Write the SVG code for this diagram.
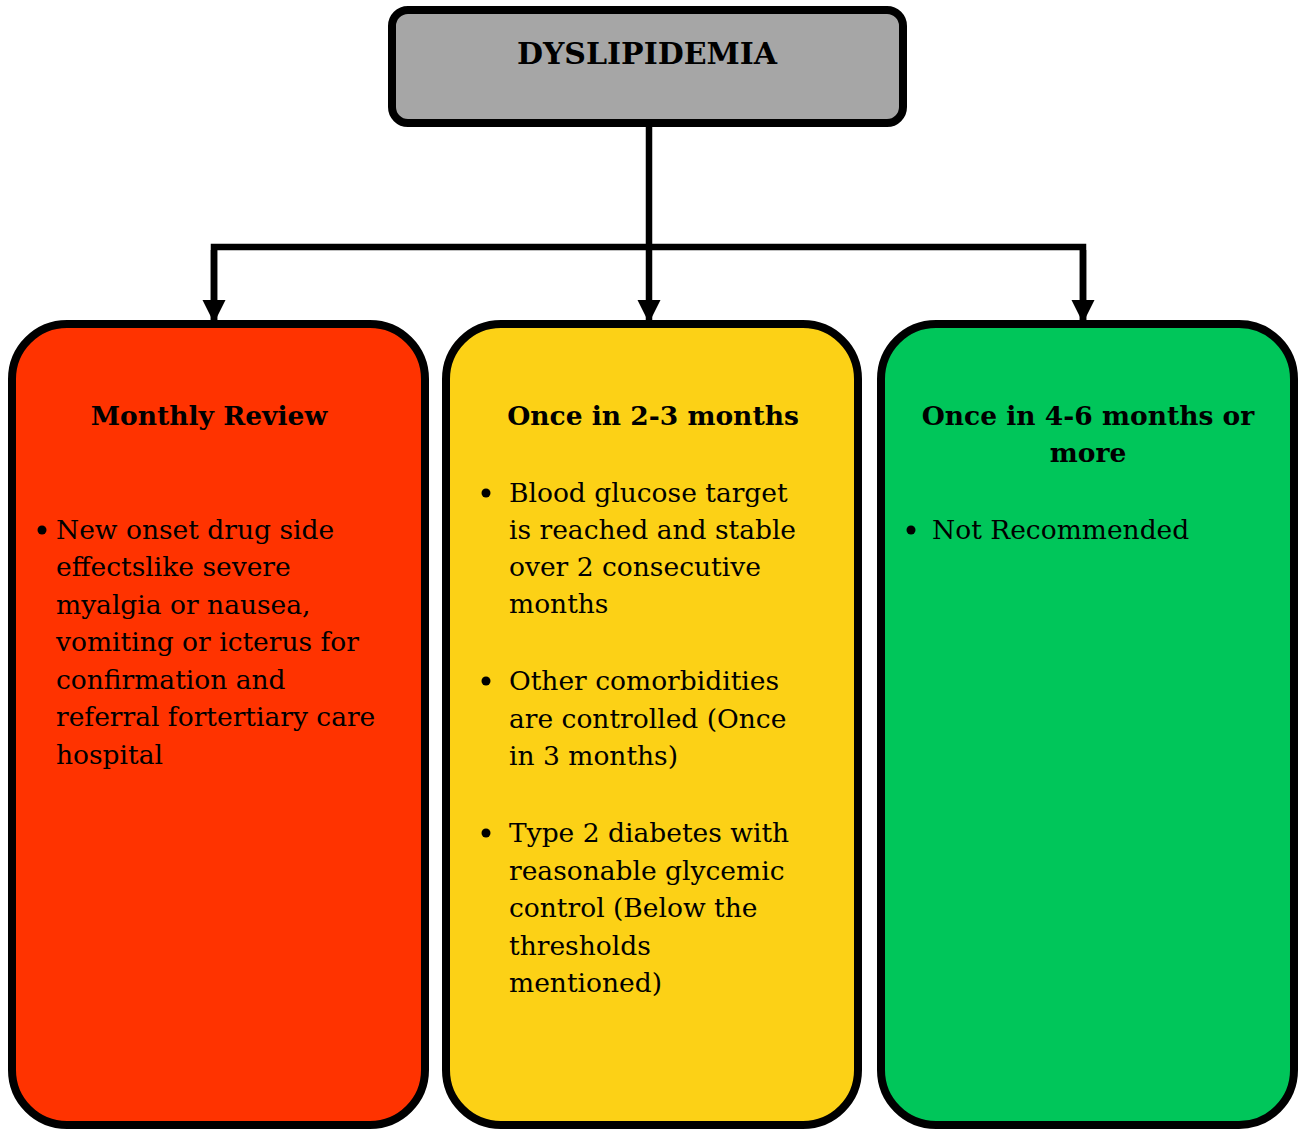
<svg xmlns="http://www.w3.org/2000/svg" width="1302" height="1129" viewBox="0 0 1302 1129">
<style>
.box{stroke:#000;stroke-width:8}
.t{font-family:"DejaVu Serif","Liberation Serif",serif;font-size:26.5px;fill:#000}
.b{font-weight:bold;text-anchor:middle}
.conn{fill:none;stroke:#000;stroke-width:6.5}
</style>
<defs>
<marker id="ah" viewBox="0 0 10 10" refX="10" refY="5" markerWidth="3.6" markerHeight="3.6" orient="auto" markerUnits="strokeWidth">
<path d="M0,0 L10,5 L0,10 Z" fill="#000"/>
</marker>
</defs>
<rect width="1302" height="1129" fill="#fff"/>
<g id="connectors">
<path class="conn" d="M649,124 V323" marker-end="url(#ah)"/>
<path class="conn" d="M214,320 V247 H1083 V320"/>
<path class="conn" d="M214,250 V323" marker-end="url(#ah)"/>
<path class="conn" d="M1083,250 V323" marker-end="url(#ah)"/>
</g>
<g id="dyslipidemia">
<rect class="box" x="392" y="10" width="511" height="113" rx="16" fill="#A6A6A6"/>
<text class="t b" x="647" y="64" style="font-size:30px">DYSLIPIDEMIA</text>
</g>
<g id="monthly">
<rect class="box" x="12" y="324" width="413" height="801" rx="55" fill="#FF3300"/>
<text class="t b" x="209" y="425">Monthly Review</text>
<circle cx="42" cy="530" r="4.5"/>
<text class="t" x="56" y="539">New onset drug side</text>
<text class="t" x="56" y="576">effectslike severe</text>
<text class="t" x="56" y="614">myalgia or nausea,</text>
<text class="t" x="56" y="651">vomiting or icterus for</text>
<text class="t" x="56" y="689">confirmation and</text>
<text class="t" x="56" y="726">referral fortertiary care</text>
<text class="t" x="56" y="764">hospital</text>
</g>
<g id="twothree">
<rect class="box" x="446" y="324" width="412" height="801" rx="55" fill="#FCD116"/>
<text class="t b" x="653" y="425">Once in 2-3 months</text>
<circle cx="486" cy="493" r="4.5"/>
<text class="t" x="509" y="502">Blood glucose target</text>
<text class="t" x="509" y="539">is reached and stable</text>
<text class="t" x="509" y="576">over 2 consecutive</text>
<text class="t" x="509" y="613">months</text>
<circle cx="486" cy="681" r="4.5"/>
<text class="t" x="509" y="690">Other comorbidities</text>
<text class="t" x="509" y="728">are controlled (Once</text>
<text class="t" x="509" y="765">in 3 months)</text>
<circle cx="486" cy="833" r="4.5"/>
<text class="t" x="509" y="842">Type 2 diabetes with</text>
<text class="t" x="509" y="880">reasonable glycemic</text>
<text class="t" x="509" y="917">control (Below the</text>
<text class="t" x="509" y="955">thresholds</text>
<text class="t" x="509" y="992">mentioned)</text>
</g>
<g id="fourSix">
<rect class="box" x="881" y="324" width="413" height="801" rx="55" fill="#00C65A"/>
<text class="t b" x="1088" y="425">Once in 4-6 months or</text>
<text class="t b" x="1088" y="462">more</text>
<circle cx="911" cy="530" r="4.5"/>
<text class="t" x="932" y="539">Not Recommended</text>
</g>
</svg>
